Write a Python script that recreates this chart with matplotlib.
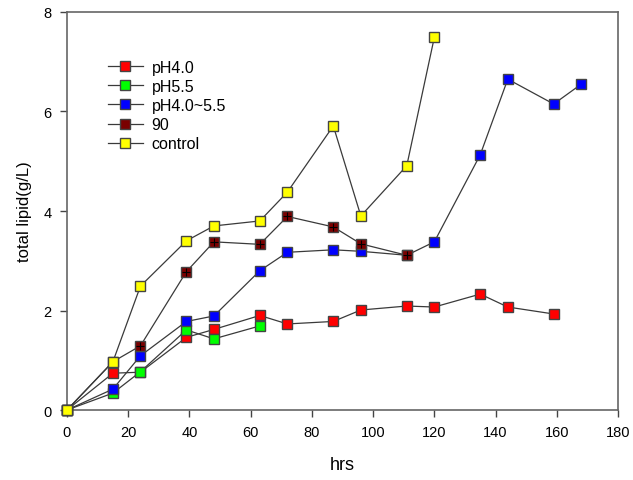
import matplotlib
matplotlib.use("Agg")
import matplotlib.pyplot as plt
from matplotlib.lines import Line2D

plt.rcParams['font.family'] = ['Liberation Sans', 'DejaVu Sans']

# Data
t_red = [0, 15, 24, 39, 48, 63, 72, 87, 96, 111, 120, 135, 144, 159]
y_red = [0, 0.74, 0.76, 1.46, 1.62, 1.90, 1.73, 1.78, 2.01, 2.09, 2.07, 2.33, 2.07, 1.93]

t_green = [0, 15, 24, 39, 48, 63]
y_green = [0, 0.34, 0.77, 1.61, 1.43, 1.69]

t_blue = [0, 15, 24, 39, 48, 63, 72, 87, 96, 111, 120, 135, 144, 159, 168]
y_blue = [0, 0.42, 1.09, 1.78, 1.89, 2.80, 3.17, 3.22, 3.19, 3.11, 3.38, 5.13, 6.65, 6.15, 6.55]

t_brown = [0, 15, 24, 39, 48, 63, 72, 87, 96, 111]
y_brown = [0, 0.97, 1.29, 2.78, 3.38, 3.33, 3.89, 3.68, 3.34, 3.11]

t_yellow = [0, 15, 24, 39, 48, 63, 72, 87, 96, 111, 120]
y_yellow = [0, 0.97, 2.49, 3.40, 3.70, 3.80, 4.38, 5.71, 3.90, 4.91, 7.49]

labels = ["pH4.0", "pH5.5", "pH4.0~5.5", "90", "control"]
colors = ["#ff0000", "#00ff00", "#0000ff", "#7a0000", "#ffff00"]

series = [(t_red, y_red), (t_green, y_green), (t_blue, y_blue),
          (t_brown, y_brown), (t_yellow, y_yellow)]

fig = plt.figure(figsize=(6.33, 4.81), dpi=100)
ax = fig.add_axes([0.1058, 0.1455, 0.8705, 0.8275])

ms = 7.5
line_col = "#3a3a3a"
handles = []
for i, ((t, y), lab, c) in enumerate(zip(series, labels, colors)):
    ax.plot(t, y, color=line_col, lw=0.9, zorder=2 + i, clip_on=False)
    ax.plot(t, y, ls='none', marker='s', ms=ms, mfc=c, mec='#444444', mew=1.0,
            zorder=3 + i, clip_on=False)
    if lab == "90":
        ax.plot(t, y, ls='none', marker='+', ms=ms - 1.5, mec='#000000', mew=0.8,
                zorder=3.5 + i, clip_on=False)
    handles.append(Line2D([], [], color=line_col, lw=0.9, marker='s', ms=ms - 0.5,
                          mfc=c, mec='#444444', mew=1.0))

ax.set_xlim(0, 180)
ax.set_ylim(0, 8)
ax.set_xticks(range(0, 181, 20))
ax.set_yticks([0, 2, 4, 6, 8])
ax.tick_params(axis='both', direction='out', length=5, width=1, color='#444444',
               labelsize=10.5, pad=6)
ax.tick_params(top=False, right=False)
for s in ax.spines.values():
    s.set_color('#666666')
    s.set_linewidth(1.2)

ax.set_xlabel("hrs", fontsize=13, labelpad=12)
ax.set_ylabel("total lipid(g/L)", fontsize=12, labelpad=8)

leg = ax.legend(handles, labels, loc='upper left', bbox_to_anchor=(0.062, 0.896),
                frameon=False, fontsize=11.5, handlelength=2.2, handletextpad=0.55,
                labelspacing=0.26, borderaxespad=0)

fig.savefig("out.png", dpi=100)
